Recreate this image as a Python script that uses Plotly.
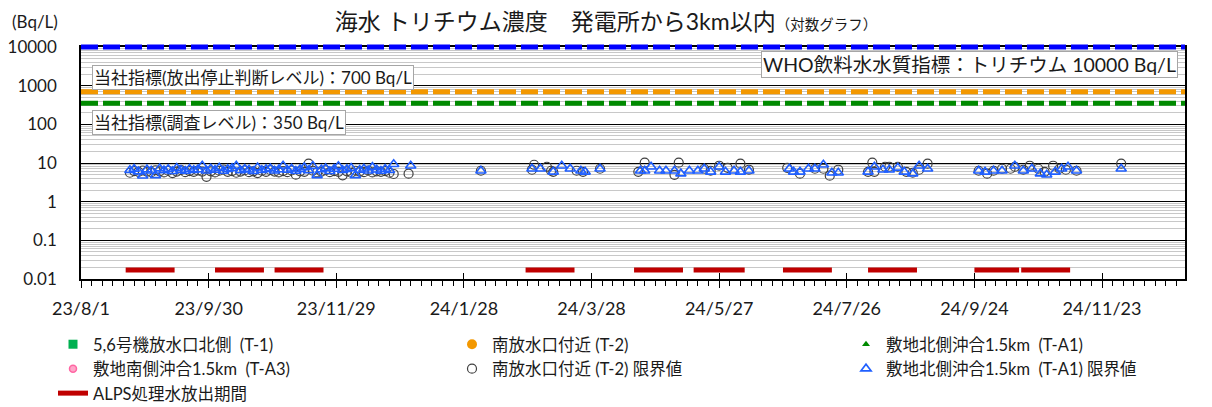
import math

import pandas as pd
import plotly.graph_objects as go

FONT = "Lato, 'Noto Sans CJK JP', sans-serif"

# dense period (sampled every 2 days, 2023-08-24 .. 2023-12-26)
dense_dates = pd.date_range("2023-08-24", "2023-12-26", freq="2D")
t2_dense = [
    5.6, 6.2, 5.9, 6.4, 6.0, 5.8, 6.5, 6.1, 5.7, 6.3, 5.5, 6.0, 6.6, 5.8, 6.2, 5.9,
    6.4, 6.0, 4.4, 6.1, 5.7, 6.3, 6.8, 5.9, 6.2, 5.6, 6.0, 6.5, 5.8, 6.1, 5.5, 6.3,
    5.9, 6.6, 6.0, 5.7, 6.2, 5.8, 6.4, 5.0, 6.1, 5.9, 9.6, 6.3, 5.7, 6.0, 6.5, 5.8,
    6.2, 5.9, 4.8, 6.1, 5.6, 6.3, 6.0, 5.8, 6.4, 5.7, 6.1, 5.9, 6.2, 5.6, 5.2,
]
ta1_dense = [
    6.5, 7.0, 6.0, 4.7, 6.8, 6.3, 4.8, 7.2, 6.4, 6.9, 6.1, 7.4, 6.6, 6.2, 7.0, 6.5,
    6.8, 8.5, 6.3, 7.1, 6.6, 7.5, 6.2, 6.9, 7.3, 8.4, 6.4, 7.0, 6.7, 6.1, 7.6, 6.5,
    6.9, 7.2, 6.3, 6.8, 8.5, 6.6, 7.1, 6.2, 6.9, 7.7, 6.4, 8.3, 4.8, 6.8, 7.3, 6.1,
    7.0, 8.2, 6.5, 6.9, 7.4, 4.8, 6.6, 7.1, 6.3, 7.8, 6.7, 6.2, 7.0, 6.5, 9.3,
]

# T-2 limit values (circles), 2024
t2_dates = [
    "2024-01-02", "2024-02-05", "2024-02-29", "2024-03-01", "2024-03-07", "2024-03-09",
    "2024-03-10", "2024-03-21", "2024-03-24", "2024-04-01", "2024-04-19", "2024-04-22",
    "2024-05-06", "2024-05-08", "2024-05-20", "2024-05-23", "2024-05-27", "2024-05-31",
    "2024-06-06", "2024-06-10", "2024-06-28", "2024-07-04", "2024-07-11", "2024-07-15",
    "2024-07-18", "2024-07-22", "2024-08-05", "2024-08-07", "2024-08-08", "2024-08-13",
    "2024-08-15", "2024-08-19", "2024-08-23", "2024-08-26", "2024-08-29", "2024-09-02",
    "2024-09-26", "2024-09-30", "2024-10-03", "2024-10-07", "2024-10-11", "2024-10-13",
    "2024-10-17", "2024-10-20", "2024-10-24", "2024-10-27", "2024-10-31", "2024-11-03",
    "2024-11-06", "2024-11-11", "2024-12-02",
]
t2_values = [
    5.3, 6.3, 6.7, 9.0, 8.0, 6.3,
    5.9, 6.3, 5.9, 7.1, 5.9, 10.2,
    4.95, 10.2, 7.1, 6.3, 8.5, 7.5,
    9.6, 6.7, 7.5, 5.3, 7.1, 7.1,
    4.7, 6.7, 5.9, 10.2, 5.9, 8.0,
    8.0, 8.0, 5.9, 5.6, 6.7, 9.6,
    6.3, 5.3, 6.3, 7.1, 7.1, 8.0,
    6.7, 8.5, 7.1, 5.9, 8.5, 7.1,
    6.7, 6.3, 9.6,
]

# T-A1 limit values (triangles), 2024
ta1_dates = [
    "2024-01-03", "2024-02-05", "2024-02-29", "2024-03-04", "2024-03-10", "2024-03-14",
    "2024-03-18", "2024-03-23", "2024-03-25", "2024-04-01", "2024-04-20", "2024-04-22",
    "2024-04-25", "2024-04-29", "2024-05-02", "2024-05-06", "2024-05-09", "2024-05-13",
    "2024-05-17", "2024-05-20", "2024-05-23", "2024-05-27", "2024-05-30", "2024-06-03",
    "2024-06-06", "2024-06-10", "2024-06-29", "2024-07-01", "2024-07-04", "2024-07-08",
    "2024-07-11", "2024-07-15", "2024-07-19", "2024-07-22", "2024-08-05", "2024-08-08",
    "2024-08-12", "2024-08-15", "2024-08-19", "2024-08-22", "2024-08-26", "2024-08-29",
    "2024-09-02", "2024-09-26", "2024-09-29", "2024-10-03", "2024-10-07", "2024-10-13",
    "2024-10-17", "2024-10-21", "2024-10-25", "2024-10-28", "2024-11-01", "2024-11-04",
    "2024-11-07", "2024-11-11", "2024-12-02",
]
ta1_values = [
    8.5, 6.3, 7.1, 7.1, 5.9, 8.5,
    7.1, 6.3, 5.9, 7.1, 6.3, 6.3,
    8.0, 6.3, 6.3, 6.3, 5.3, 6.3,
    6.3, 7.1, 5.9, 8.0, 5.9, 6.3,
    5.9, 6.3, 7.1, 5.9, 5.9, 7.1,
    7.1, 9.0, 5.6, 5.6, 5.9, 8.0,
    6.7, 6.7, 7.5, 5.9, 5.3, 8.5,
    7.1, 6.3, 5.9, 6.3, 6.3, 8.5,
    6.3, 7.1, 5.3, 4.95, 5.9, 7.1,
    8.0, 6.3, 7.1,
]

# ALPS treated water discharge periods
alps_start = ["2023-08-22", "2023-10-03", "2023-10-31", "2024-02-26", "2024-04-17",
              "2024-05-15", "2024-06-26", "2024-08-05", "2024-09-24", "2024-10-16"]
alps_end = ["2023-09-14", "2023-10-26", "2023-11-23", "2024-03-20", "2024-05-10",
            "2024-06-08", "2024-07-19", "2024-08-28", "2024-10-15", "2024-11-08"]
alps_level = 0.017

# reference levels (Bq/L)
who_level = 10000
stop_level = 700
survey_level = 350

y_ticks = [0.01, 0.1, 1, 10, 100, 1000, 10000]
y_ticktext = ["0.01", "0.1", "1", "10", "100", "1000", "10000"]
x_range = ["2023-08-01", "2025-01-01"]
y_range = [-2, 4]

DAY = 86400000

# the page body has an 8px margin, so the figure is drawn 8px smaller
OFF = 8
W, H = 1212 - OFF, 407 - OFF
PLOT_LEFT, PLOT_RIGHT = 81 - OFF, 1185 - OFF
PLOT_TOP, PLOT_BOTTOM = 47 - OFF, 279 - OFF

fig = go.Figure()

# legend-only series (no detected values in this period)
fig.add_trace(go.Scatter(x=[None], y=[None], mode="markers", name="5,6号機放水口北側  (T-1)",
                         legend="legend",
                         marker=dict(symbol="square", size=9, color="#00b050")))
fig.add_trace(go.Scatter(x=[None], y=[None], mode="markers", name="南放水口付近 (T-2)",
                         legend="legend2",
                         marker=dict(symbol="circle", size=10, color="#f39800")))
fig.add_trace(go.Scatter(x=[None], y=[None], mode="markers", name="敷地北側沖合1.5km  (T-A1)",
                         legend="legend3",
                         marker=dict(symbol="triangle-up", size=7, color="#008a00")))
fig.add_trace(go.Scatter(x=[None], y=[None], mode="markers", name="敷地南側沖合1.5km  (T-A3)",
                         legend="legend",
                         marker=dict(symbol="circle", size=7, color="#ffa6c9",
                                     line=dict(color="#ff66a3", width=1.5))))

fig.add_trace(go.Scatter(
    x=list(dense_dates) + pd.to_datetime(t2_dates).tolist(),
    y=t2_dense + t2_values,
    mode="markers",
    name="南放水口付近 (T-2) 限界値",
    legend="legend2",
    marker=dict(symbol="circle-open", size=9, color="#404040", line=dict(width=1.2)),
))
fig.add_trace(go.Scatter(
    x=list(dense_dates) + pd.to_datetime(ta1_dates).tolist(),
    y=ta1_dense + ta1_values,
    mode="markers",
    name="敷地北側沖合1.5km  (T-A1) 限界値",
    legend="legend3",
    marker=dict(symbol="triangle-up-open", size=9, color="#1f5fff", line=dict(width=1.6)),
))

alps_x, alps_y = [], []
for s, e in zip(alps_start, alps_end):
    alps_x += [s, e, None]
    alps_y += [alps_level, alps_level, None]
fig.add_trace(go.Scatter(x=alps_x, y=alps_y, mode="lines", name="ALPS処理水放出期間",
                         legend="legend",
                         line=dict(color="#c00000", width=5)))

# dummy trace so the overlay axis (crossing major ticks) is drawn
fig.add_trace(go.Scatter(x=[None], y=[None], xaxis="x2", showlegend=False, hoverinfo="skip"))

# reference lines, placed in paper coords so the top one is not clipped
for level, color in [(who_level, "#0000ff"), (stop_level, "#f39800"), (survey_level, "#008a00")]:
    yp = (math.log10(level) - y_range[0]) / (y_range[1] - y_range[0])
    fig.add_shape(type="line", xref="paper", yref="paper", x0=0, x1=1, y0=yp, y1=yp,
                  line=dict(color=color, width=5, dash="17px,5px"))


def paper_y(px):
    # reference pixel row -> paper fraction of the plot area
    return (PLOT_BOTTOM - (px - OFF)) / (PLOT_BOTTOM - PLOT_TOP)


def paper_x(px):
    return (px - OFF - PLOT_LEFT) / (PLOT_RIGHT - PLOT_LEFT)


box = dict(bgcolor="white", bordercolor="#a6a6a6", borderwidth=1, borderpad=1,
           showarrow=False, xref="paper", yref="paper")
fig.add_annotation(text="当社指標(放出停止判断レベル)：700 Bq/L", x=paper_x(92), xanchor="left",
                   y=paper_y(77), yanchor="middle", font=dict(size=17, color="#1a1a1a"), **box)
fig.add_annotation(text="当社指標(調査レベル)：350 Bq/L", x=paper_x(92), xanchor="left",
                   y=paper_y(122), yanchor="middle", font=dict(size=17, color="#1a1a1a"), **box)
fig.add_annotation(text="WHO飲料水水質指標：トリチウム 10000 Bq/L", x=paper_x(1178), xanchor="right",
                   y=paper_y(64), yanchor="middle", font=dict(size=19.5, color="#1a1a1a"), **box)
fig.add_annotation(text="(Bq/L)", x=paper_x(10), xanchor="left", y=paper_y(22), yanchor="middle",
                   showarrow=False, xref="paper", yref="paper", font=dict(size=17, color="#1a1a1a"))

fig.update_xaxes(
    type="date",
    range=x_range,
    tickmode="linear",
    tick0="2023-08-01",
    dtick=60 * DAY,
    tickformat="%y/%-m/%-d",
    ticks="outside",
    ticklen=7,
    tickcolor="black",
    ticklabelstandoff=6,
    minor=dict(ticks="outside", ticklen=5, tickcolor="black", dtick=5 * DAY, tick0="2023-08-01"),
    showgrid=False,
    showline=True,
    linecolor="black",
    linewidth=1.5,
    mirror=True,
    tickfont=dict(size=18, color="#1a1a1a"),
)
fig.update_layout(xaxis2=dict(
    type="date", overlaying="x", anchor="y", side="bottom", range=x_range,
    tickmode="linear", tick0="2023-08-01", dtick=60 * DAY,
    ticks="inside", ticklen=6, tickcolor="black", showticklabels=False,
    showgrid=False, showline=False, zeroline=False,
))

minor_vals = [m * 10 ** d for d in range(-2, 4) for m in range(2, 10)]
fig.update_yaxes(
    type="log",
    range=y_range,
    tickvals=y_ticks,
    ticktext=y_ticktext,
    ticks="",
    ticklabelstandoff=19,
    showgrid=True,
    gridcolor="black",
    gridwidth=1,
    minor=dict(tickvals=minor_vals, showgrid=True, gridcolor="#c8c8c8", gridwidth=1.2),
    showline=True,
    linecolor="black",
    linewidth=1.5,
    mirror=True,
    zeroline=False,
    tickfont=dict(size=17, color="#1a1a1a"),
)

legend_common = dict(
    orientation="v",
    xanchor="left",
    y=paper_y(327),
    yanchor="top",
    font=dict(size=16.5, color="#1a1a1a"),
    traceorder="normal",
    bgcolor="rgba(0,0,0,0)",
)

fig.update_layout(
    width=W,
    height=H,
    margin=dict(l=PLOT_LEFT, r=W - PLOT_RIGHT, t=PLOT_TOP, b=H - PLOT_BOTTOM, autoexpand=False),
    paper_bgcolor="white",
    plot_bgcolor="white",
    font=dict(family=FONT, color="#1a1a1a"),
    title=dict(
        text="海水 トリチウム濃度　発電所から3km以内<span style='font-size:14.5px'>（対数グラフ）</span>",
        x=(606 - OFF) / W,
        xanchor="center",
        y=1 - (22 - OFF) / H,
        yanchor="middle",
        font=dict(size=23, color="#1a1a1a"),
    ),
    legend=dict(x=paper_x(53), **legend_common),
    legend2=dict(x=paper_x(452), **legend_common),
    legend3=dict(x=paper_x(846), **legend_common),
)

fig.write_html("out.html")
